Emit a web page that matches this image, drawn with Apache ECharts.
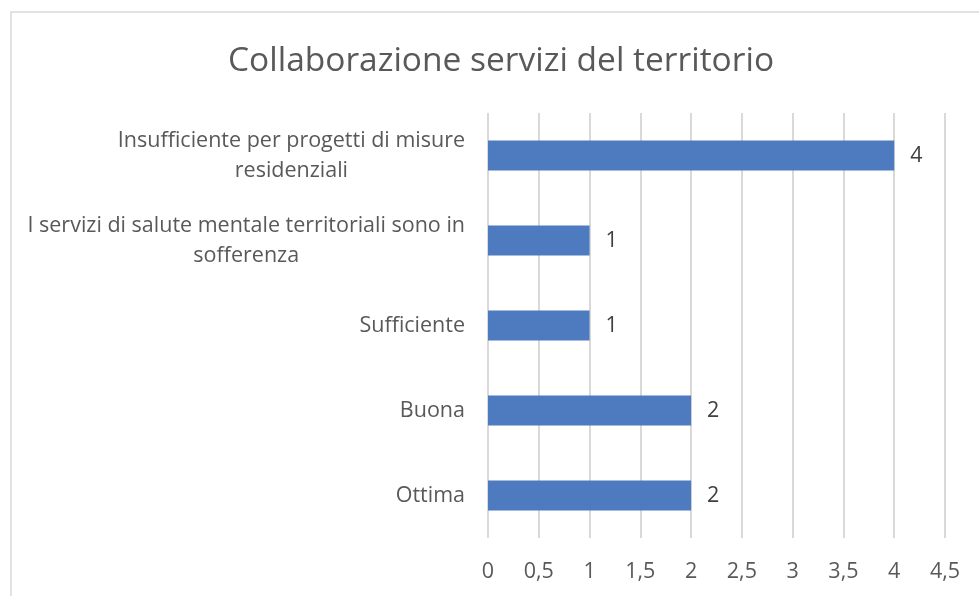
<!DOCTYPE html>
<html>
<head>
<meta charset="utf-8">
<script src="https://cdn.jsdelivr.net/npm/echarts@6/dist/echarts.min.js"></script>
<style>
  html, body { margin: 0; padding: 0; background: #ffffff; }
  #chart { width: 979px; height: 596px; }
</style>
</head>
<body>
<div id="chart"></div>
<script>
// Categories, listed top to bottom
const categories = [
  'Insufficiente per progetti di misure\nresidenziali',
  'I servizi di salute mentale territoriali sono in\nsofferenza',
  'Sufficiente',
  'Buona',
  'Ottima'
];
const values = [4, 1, 1, 2, 2];
const xTicks = { min: 0, max: 4.5, step: 0.5 };
const titleText = 'Collaborazione servizi del territorio';

const FONT = '"Open Sans", "Noto Sans", sans-serif';
const TEXT = '#595959';
const GRID = '#d9d9d9';
const LABEL_SIZE = 21.5;

const chart = echarts.init(document.getElementById('chart'), null, { renderer: 'canvas' });

chart.setOption({
  backgroundColor: '#ffffff',
  animation: false,
  title: {
    text: titleText,
    left: 496,
    top: 39,
    textAlign: 'center',
    textStyle: { fontFamily: FONT, fontSize: 33.5, fontWeight: 'normal', color: TEXT }
  },
  graphic: [{
    type: 'rect',
    shape: { x: 11, y: 12, width: 1100, height: 1000 },
    style: { fill: 'none', stroke: GRID, lineWidth: 1.5 },
    silent: true
  }],
  grid: { left: 488, right: 34, top: 113, bottom: 58, containLabel: false },
  xAxis: {
    type: 'value',
    min: xTicks.min,
    max: xTicks.max,
    interval: xTicks.step,
    axisLine: { show: false },
    axisTick: { show: false },
    splitLine: { show: true, lineStyle: { color: GRID, width: 2 } },
    axisLabel: {
      margin: 23,
      fontFamily: FONT,
      fontSize: LABEL_SIZE,
      color: TEXT,
      formatter: v => String(v).replace('.', ',')
    }
  },
  yAxis: {
    type: 'category',
    data: categories,
    inverse: true,
    axisLine: { show: false },
    axisTick: { show: false },
    splitLine: { show: false },
    axisLabel: {
      margin: 23,
      fontFamily: FONT,
      fontSize: LABEL_SIZE,
      color: TEXT,
      lineHeight: 30,
      formatter: v => v.split('\n').map(s => '{c|' + s + '}').join('\n'),
      rich: {
        c: { align: 'center', fontFamily: FONT, fontSize: LABEL_SIZE, color: TEXT, lineHeight: 30 }
      }
    }
  },
  series: [{
    type: 'bar',
    data: values,
    barWidth: 30,
    itemStyle: { color: '#4e7ac0' },
    label: {
      show: true,
      position: 'right',
      distance: 16,
      fontFamily: FONT,
      fontSize: LABEL_SIZE,
      color: '#404040'
    }
  }]
});
</script>
</body>
</html>
